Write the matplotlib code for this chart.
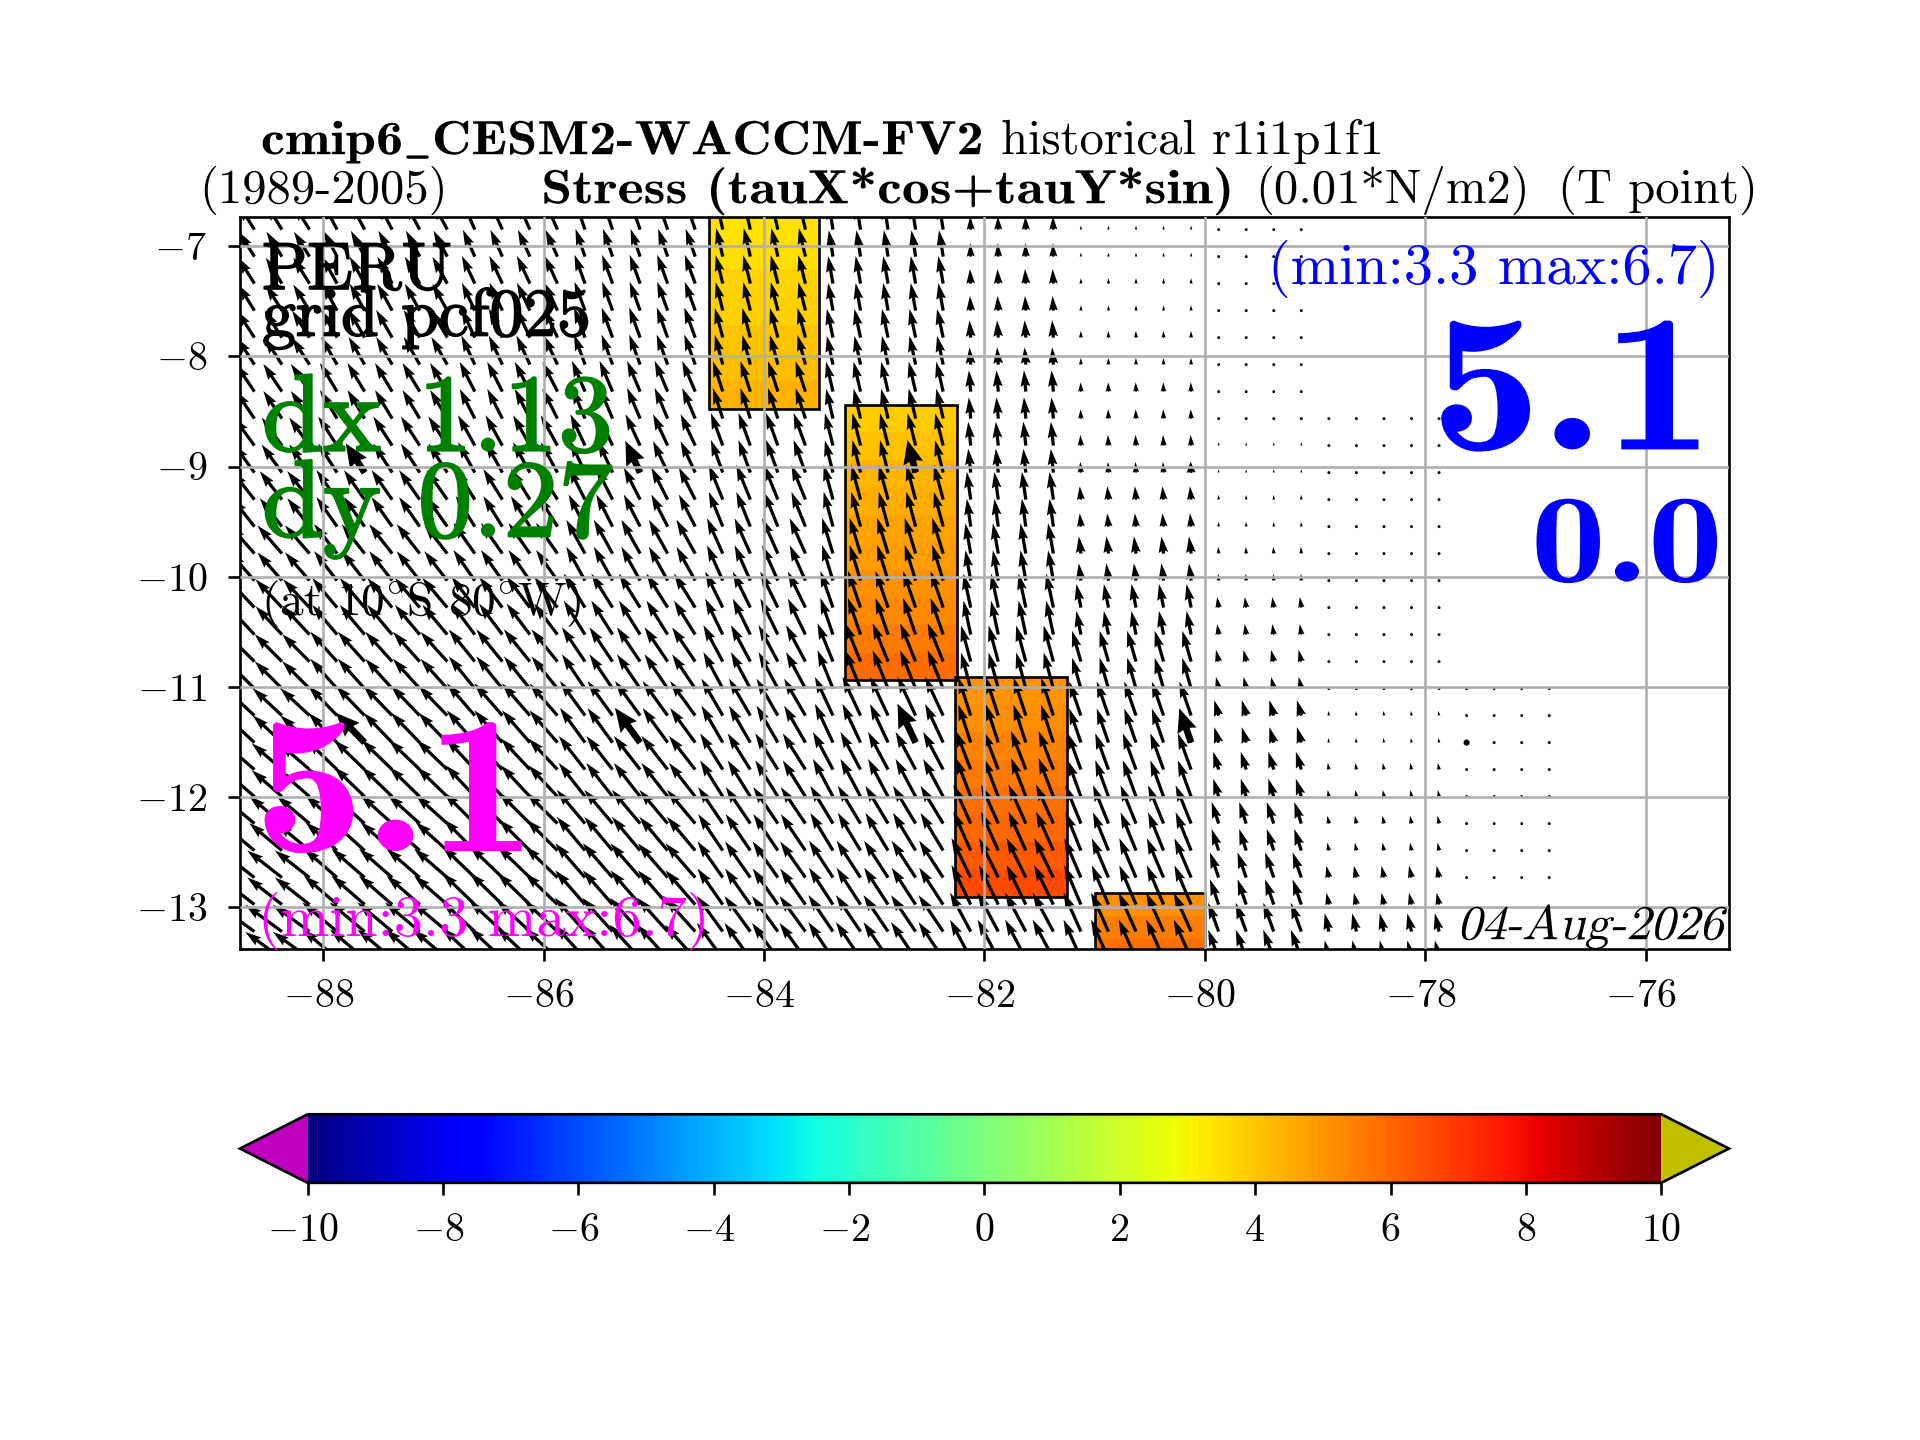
import numpy as np
import matplotlib
matplotlib.use('Agg')
import matplotlib.pyplot as plt
import matplotlib.patheffects as pe
from matplotlib.patches import Rectangle
from matplotlib.transforms import Affine2D, ScaledTranslation

plt.rcParams['font.family'] = ['cmr10', 'DejaVu Serif']
plt.rcParams['mathtext.fontset'] = 'cm'
plt.rcParams['axes.formatter.use_mathtext'] = True

# coloured cells: lon edges, lat edges, value of each row
cell_lons = [[-84.5, -83.5], [-83.27, -82.25], [-82.27, -81.25], [-81.0, -80.0]]
cell_tops = [-6.7, -8.44, -10.91, -12.87]
cell_bottoms = [-8.48, -10.94, -12.91, -13.5]
cell_vals = [
    [3.4, 3.5, 3.7, 3.8, 4.0, 4.2, 4.4],
    [3.9, 4.1, 4.3, 4.5, 4.7, 4.9, 5.1, 5.3, 5.6, 5.9],
    [5.0, 5.2, 5.4, 5.6, 5.8, 6.0, 6.3, 6.6],
    [5.1, 5.5, 5.8],
]

# wind stress read per atmosphere box: 14 lat groups (2 rows each), 11 lon groups
col_counts = [4, 5, 4, 5, 4, 5, 4, 5, 4, 5, 4]
tau_angle = [
    [32, 28, 24, 19, 13, 9, 2, 0, 0, 0, 0],
    [32, 29, 25, 20, 14, 10, 3, 0, 0, 0, 0],
    [33, 30, 25, 20, 15, 12, 4, 1, 0, 0, 0],
    [34, 31, 27, 23, 18, 13, 5, 2, 0, 0, 0],
    [36, 33, 29, 25, 20, 14, 6, 3, 1, 0, 0],
    [38, 35, 32, 27, 22, 15, 8, 5, 2, 0, 0],
    [41, 38, 35, 29, 24, 17, 10, 7, 4, 0, 0],
    [43, 40, 37, 32, 26, 19, 12, 11, 8, 0, 0],
    [45, 42, 39, 34, 28, 22, 15, 16, 13, 5, 0],
    [47, 44, 41, 36, 30, 25, 18, 19, 16, 8, 0],
    [49, 46, 43, 38, 32, 28, 21, 20, 17, 10, 0],
    [50, 48, 45, 40, 34, 31, 24, 22, 18, 11, 0],
    [52, 49, 46, 41, 35, 33, 26, 23, 19, 12, 0],
    [54, 50, 47, 42, 36, 34, 28, 24, 20, 13, 0],
]
tau_speed = [
    [22, 22, 22, 22, 22, 20, 10, 3, 0.7, 0, 0],
    [23, 23, 23, 23, 22, 21, 11, 4, 0.7, 0, 0],
    [24, 24, 24, 24, 23, 22, 13, 5, 0.7, 0, 0],
    [25, 25, 25, 25, 24, 23, 16, 7, 1.5, 0.7, 0],
    [26, 26, 26, 26, 26, 25, 18, 8, 2.5, 0.7, 0],
    [27, 27, 27, 27, 28, 27, 21, 10, 3.5, 0.7, 0],
    [28, 28, 28, 29, 29, 28, 23, 13, 5, 0.7, 0],
    [29, 29, 29, 30, 30, 29, 26, 18, 8, 1.2, 0],
    [29, 30, 31, 31, 31, 31, 28, 24, 9, 2, 0.7],
    [30, 31, 32, 32, 32, 32, 30, 27, 12, 3.5, 0.8],
    [30, 32, 32, 32, 32, 32, 31, 29, 14, 5, 0.8],
    [32, 32, 33, 33, 33, 33, 32, 31, 17, 6, 0.8],
    [33, 33, 34, 34, 33, 33, 33, 32, 20, 9, 1.2],
    [34, 34, 34, 34, 33, 33, 33, 32, 23, 14, 1.2],
]
# last ocean longitude of each row
ocean_east = [-79.1] * 7 + [-77.85] * 10 + [-76.85] * 8 + [-77.85] * 3

bold_lons = [-87.74, -85.15, -82.63, -80.13, -87.7, -85.12, -82.66, -80.13, -77.63]
bold_lats = [-8.97, -9.0, -9.05, -9.05, -11.5, -11.54, -11.5, -11.54, -11.54]

xticks = [-88, -86, -84, -82, -80, -78, -76]
yticks = [-7, -8, -9, -10, -11, -12, -13]
cbar_ticks = [-10, -8, -6, -4, -2, 0, 2, 4, 6, 8, 10]

VW, VH = 1568, 1176  # layout was measured on a view of this size

class Shape(pe.AbstractPathEffect):
    # stretch or slant a text around its anchor (the extended/italic CM faces are not installed)
    def __init__(self, x0, sx=1.0, skew=0.0):
        self.x0, self.sx, self.skew = x0, sx, skew
    def draw_path(self, renderer, gc, tpath, affine, rgbFace=None):
        y0 = affine.get_matrix()[1, 2]
        extra = (Affine2D().translate(-self.x0, -y0).scale(self.sx, 1)
                 .skew(self.skew, 0).translate(self.x0, y0))
        renderer.draw_path(gc, tpath, affine + extra, rgbFace)

def minus_labels(vals):
    return [f'$-${abs(v)}' if v < 0 else str(v) for v in vals]

def nudge_negative(axis_obj, vals):
    # math minus leaves a gap on its left, which pushes the label off its tick
    for lab, val in zip(axis_obj.get_xticklabels(), vals):
        if val < 0:
            lab.set_transform(lab.get_transform() + ScaledTranslation(-0.02, 0, fig.dpi_scale_trans))

fig = plt.figure(figsize=(8, 6), dpi=240)
ax = fig.add_axes([196 / VW, 1 - 775 / VH, (1412 - 196) / VW, (775 - 177) / VH])

cmap = plt.get_cmap('jet').copy()
cmap.set_under('#c000c0')
cmap.set_over('#c0c000')

# the cells
for lon, top, bottom, vals in zip(cell_lons, cell_tops, cell_bottoms, cell_vals):
    lat_edges = np.linspace(top, bottom, len(vals) + 1)
    mesh = ax.pcolormesh(lon, lat_edges, np.array(vals)[:, None], cmap=cmap, vmin=-10, vmax=10, zorder=1)
    ax.add_patch(Rectangle((lon[0], bottom), lon[1] - lon[0], top - bottom, fill=False,
                           edgecolor='k', linewidth=0.8, zorder=1.5))

# the arrows
lons = -88.875 + 0.25 * np.arange(49)
lats = -6.85 - 0.245 * np.arange(28)
angle = np.repeat(np.repeat(np.array(tau_angle, float), 2, axis=0), col_counts, axis=1)
speed = np.repeat(np.repeat(np.array(tau_speed, float), 2, axis=0), col_counts, axis=1)
u = -speed * np.sin(np.radians(angle))
v = speed * np.cos(np.radians(angle))
lon2d, lat2d = np.meshgrid(lons, lats)
sea = lon2d <= np.array(ocean_east)[:, None]
ax.quiver(lon2d[sea], lat2d[sea], u[sea], v[sea], scale=180, scale_units='inches',
          units='inches', width=0.0135, color='k', zorder=2)

ix = [np.abs(lons - a).argmin() for a in bold_lons]
iy = [np.abs(lats - a).argmin() for a in bold_lats]
ax.quiver(lons[ix], lats[iy], u[iy, ix], v[iy, ix], scale=180, scale_units='inches',
          units='inches', width=0.028, headlength=3.5, headaxislength=3.2, color='k', zorder=2)

ax.set_xlim(-88.756, -75.244)
ax.set_ylim(-13.378, -6.733)
ax.set_xticks(xticks, minus_labels(xticks))
ax.set_yticks(yticks, minus_labels(yticks))
ax.tick_params(labelsize=12)
ax.tick_params(axis='x', pad=5.7)
ax.tick_params(axis='y', pad=6.4)
ax.grid(True)
ax.set_axisbelow(False)
nudge_negative(ax, xticks)

# colorbar
cax = fig.add_axes([196 / VW, 1 - 966 / VH, (1412 - 196) / VW, (966 - 910) / VH])
cb = fig.colorbar(mesh, cax=cax, orientation='horizontal', extend='both')
cb.set_ticks(cbar_ticks, labels=minus_labels(cbar_ticks))
cb.ax.tick_params(labelsize=12, pad=5.7)
nudge_negative(cb.ax, cbar_ticks)

def put(x, y, s, sx=1.0, skew=0.0, stroke=0.0, **kw):
    t = fig.text(x / VW, 1 - y / VH, s, va='baseline', **kw)
    effects = []
    if sx != 1.0 or skew != 0.0:
        effects.append(Shape(x / VW * 1920, sx, skew))
    if stroke:
        effects = [pe.withStroke(linewidth=stroke, foreground=kw.get('color', 'k'))]
    if effects:
        t.set_path_effects(effects)

put(213, 126, r'cmip6$\_$CESM2-WACCM-FV2', family='cmb10', fontsize=14.4, sx=1.137)
put(1130, 126, 'historical r1i1p1f1', ha='right', fontsize=14.6)
put(163, 166, '(1989-2005)', fontsize=14.6)
put(442, 166, 'Stress (tauX*cos+tauY*sin)', family='cmb10', fontsize=14.4, sx=1.16)
put(1025, 166, '(0.01*N/m2)', fontsize=14.6)
put(1436, 166, '(T point)', ha='right', fontsize=14.6)

put(214, 236, 'PERU', fontsize=20, stroke=0.5)
put(214, 274, 'grid pcf025', fontsize=20.3, stroke=0.5)
put(214, 368, 'dx 1.13', color='green', fontsize=33, stroke=0.6)
put(214, 438, 'dy 0.27', color='green', fontsize=33, stroke=0.6)
put(213, 502, r'(at 10$^{\circ}$S 80$^{\circ}$W)', fontsize=14.2)
put(207, 695, '5.1', color='magenta', family='cmb10', fontsize=59, sx=1.13)
put(211, 764, '(min:3.3 max:6.7)', color='magenta', fontsize=17.5)
put(1404, 232, '(min:3.3 max:6.7)', color='blue', ha='right', fontsize=17.5)
put(1168, 367, '5.1', color='blue', family='cmb10', fontsize=59, sx=1.13)
put(1250, 475, '0.0', color='blue', family='cmb10', fontsize=38, sx=1.19)
put(1190, 767, '04-Aug-2026', fontsize=14.6, skew=0.24)

fig.savefig('out.png', dpi=240)
